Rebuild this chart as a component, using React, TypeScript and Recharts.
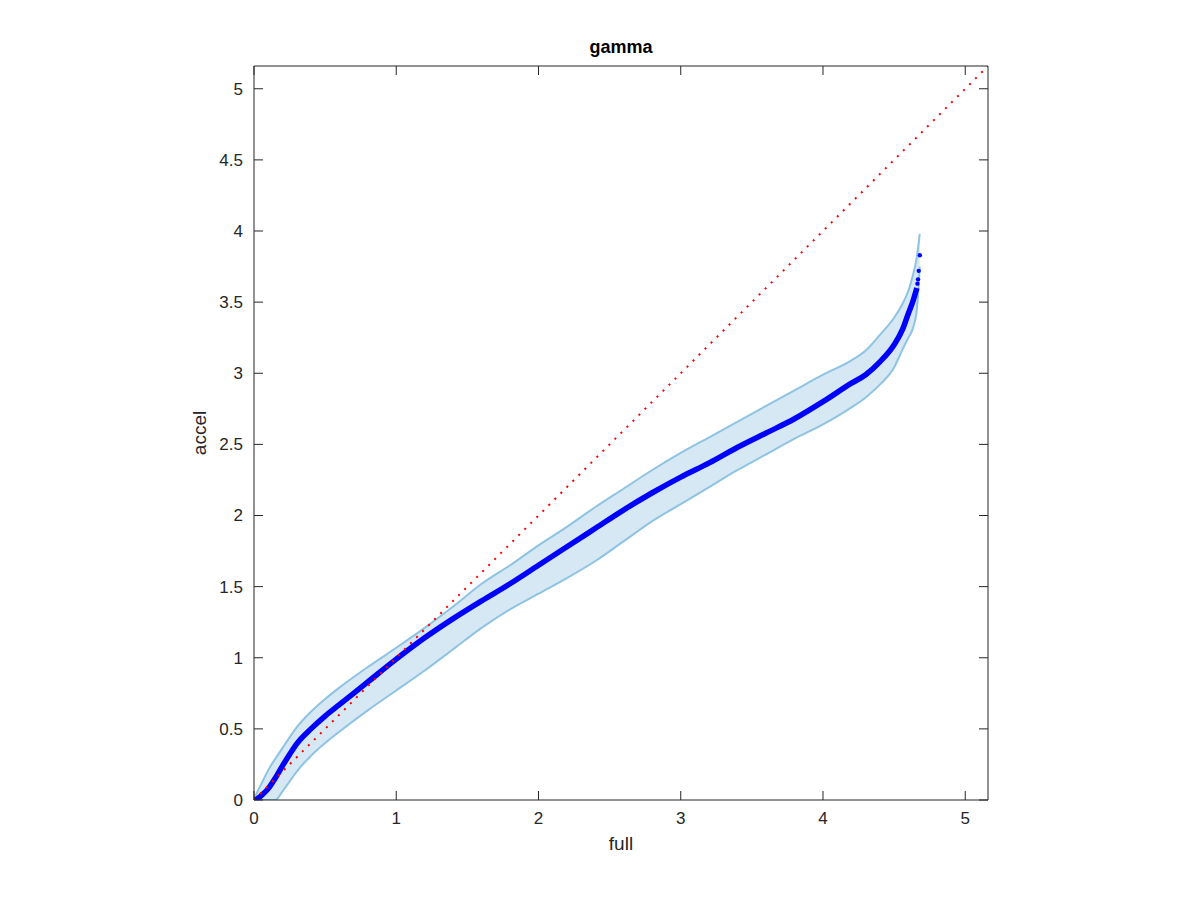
import React from 'react';
import { ComposedChart, Area, Line, XAxis, YAxis } from 'recharts';

// quantile pairs (full vs accel)
const bandX = [0, 0.02, 0.05, 0.1, 0.15, 0.2, 0.25, 0.3, 0.4, 0.5, 0.6, 0.8, 1.0, 1.2, 1.4, 1.6, 1.8, 2.0, 2.2, 2.4, 2.6, 2.8, 3.0, 3.2, 3.4, 3.6, 3.8, 4.0, 4.2, 4.3, 4.4, 4.5, 4.56, 4.6, 4.63, 4.66, 4.68];
const bandLow = [0, 0, 0, 0, 0, 0.06, 0.13, 0.2, 0.31, 0.4, 0.48, 0.63, 0.77, 0.91, 1.06, 1.21, 1.34, 1.45, 1.56, 1.68, 1.82, 1.96, 2.08, 2.2, 2.32, 2.43, 2.54, 2.64, 2.76, 2.83, 2.92, 3.04, 3.17, 3.25, 3.31, 3.45, 3.75];
const bandHigh = [0, 0.05, 0.11, 0.21, 0.29, 0.365, 0.44, 0.51, 0.62, 0.71, 0.79, 0.935, 1.07, 1.21, 1.36, 1.52, 1.65, 1.79, 1.92, 2.06, 2.19, 2.32, 2.44, 2.55, 2.66, 2.77, 2.88, 2.99, 3.09, 3.16, 3.27, 3.39, 3.49, 3.58, 3.68, 3.82, 3.98];
const quantY = [0, 0.005, 0.03, 0.08, 0.155, 0.24, 0.32, 0.395, 0.5, 0.59, 0.67, 0.83, 0.99, 1.14, 1.275, 1.4, 1.52, 1.65, 1.78, 1.91, 2.04, 2.16, 2.27, 2.37, 2.48, 2.58, 2.68, 2.8, 2.93, 2.99, 3.08, 3.2, 3.31, 3.42, 3.5, 3.6];
const tailX = [4.664, 4.668, 4.673, 4.681];
const tailY = [3.63, 3.66, 3.72, 3.83];
const diagX = [0, 5.16];
const xTicks = [0, 1, 2, 3, 4, 5];
const yTicks = [0, 0.5, 1, 1.5, 2, 2.5, 3, 3.5, 4, 4.5, 5];
const axisMax = 5.16;

const rows = bandX.map((x, i) => ({
    x,
    band: [bandLow[i], bandHigh[i]],
    q: i < quantY.length ? quantY[i] : null,
}));
const diagRows = diagX.map((x) => ({ x, d: x }));
const tailRows = tailX.map((x, i) => ({ x, t: tailY[i] }));

const axisColor = '#262626';
const font = '"Liberation Sans", Arial, sans-serif';

const BottomTick = (props: any) => {
    const { x, y, payload } = props;
    return (
        <g>
            <line x1={x} y1={y} x2={x} y2={y - 9} stroke={axisColor} />
            <text x={x} y={y + 24} textAnchor="middle" fill={axisColor} fontSize={17} fontFamily={font}>
                {payload.value}
            </text>
        </g>
    );
};

const LeftTick = (props: any) => {
    const { x, y, payload } = props;
    return (
        <g>
            <line x1={x} y1={y} x2={x + 9} y2={y} stroke={axisColor} />
            <text x={x - 11} y={y} dy="0.35em" textAnchor="end" fill={axisColor} fontSize={17} fontFamily={font}>
                {payload.value}
            </text>
        </g>
    );
};

const TopTick = (props: any) => {
    const { x, y } = props;
    return <line x1={x} y1={y} x2={x} y2={y + 9} stroke={axisColor} />;
};

const RightTick = (props: any) => {
    const { x, y } = props;
    return <line x1={x} y1={y} x2={x - 9} y2={y} stroke={axisColor} />;
};

export default function App() {
    return (
        <div style={{ position: 'absolute', left: 0, top: 0, width: 1200, height: 900, background: '#fff', fontFamily: font }}>
            <div style={{ position: 'absolute', left: 254, top: 37, width: 734, textAlign: 'center', fontSize: 18, lineHeight: '20px', fontWeight: 'bold', color: '#000' }}>
                gamma
            </div>
            <div style={{ position: 'absolute', left: 254, top: 833, width: 734, textAlign: 'center', fontSize: 19, lineHeight: '22px', color: axisColor }}>
                full
            </div>
            <div style={{ position: 'absolute', left: 150, top: 422, width: 100, textAlign: 'center', fontSize: 19, lineHeight: '22px', color: axisColor, transform: 'rotate(-90deg)' }}>
                accel
            </div>
            <ComposedChart width={1200} height={900} data={rows} margin={{ top: 56, right: 202, bottom: 60, left: 194 }}>
                <XAxis
                    dataKey="x"
                    type="number"
                    domain={[0, axisMax]}
                    ticks={xTicks}
                    allowDataOverflow
                    height={40}
                    tickSize={0}
                    tickMargin={0}
                    tickLine={false}
                    axisLine={{ stroke: axisColor }}
                    tick={<BottomTick />}
                />
                <XAxis
                    xAxisId="top"
                    orientation="top"
                    dataKey="x"
                    type="number"
                    domain={[0, axisMax]}
                    ticks={xTicks}
                    allowDataOverflow
                    height={10}
                    tickSize={0}
                    tickMargin={0}
                    tickLine={false}
                    axisLine={{ stroke: axisColor }}
                    tick={<TopTick />}
                />
                <YAxis
                    type="number"
                    domain={[0, axisMax]}
                    ticks={yTicks}
                    allowDataOverflow
                    width={60}
                    tickSize={0}
                    tickMargin={0}
                    tickLine={false}
                    axisLine={{ stroke: axisColor }}
                    tick={<LeftTick />}
                />
                <YAxis
                    yAxisId="right"
                    orientation="right"
                    type="number"
                    domain={[0, axisMax]}
                    ticks={yTicks}
                    allowDataOverflow
                    width={10}
                    tickSize={0}
                    tickMargin={0}
                    tickLine={false}
                    axisLine={{ stroke: axisColor }}
                    tick={<RightTick />}
                />
                <Area
                    dataKey="band"
                    type="monotone"
                    fill="#d6e8f4"
                    fillOpacity={1}
                    stroke="#8ec3e3"
                    strokeWidth={2}
                    isAnimationActive={false}
                />
                <Line
                    dataKey="q"
                    type="monotone"
                    stroke="#0000ff"
                    strokeWidth={5.5}
                    dot={false}
                    isAnimationActive={false}
                />
                <Line
                    data={tailRows}
                    dataKey="t"
                    stroke="none"
                    dot={{ r: 2.2, fill: '#0000ff', stroke: 'none' }}
                    isAnimationActive={false}
                />
                <Line
                    data={diagRows}
                    dataKey="d"
                    type="linear"
                    stroke="#ff0000"
                    strokeWidth={2}
                    strokeDasharray="2 6.5"
                    dot={false}
                    isAnimationActive={false}
                />
            </ComposedChart>
        </div>
    );
}
